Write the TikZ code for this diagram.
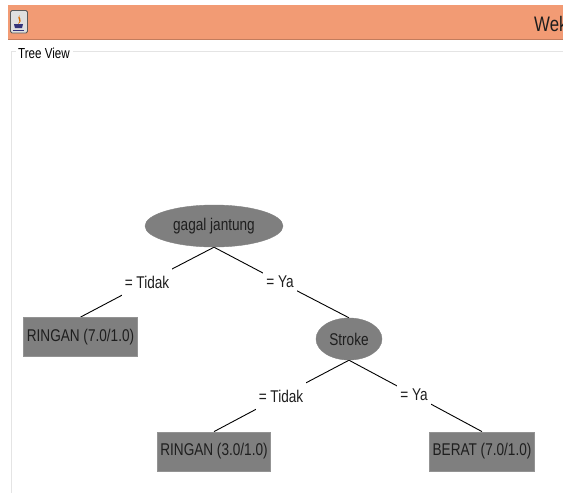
\documentclass[tikz,border=0pt]{standalone}
\usepackage{fontspec}
\setmainfont{Liberation Sans}[FakeStretch=0.8]
\usetikzlibrary{backgrounds,shapes.geometric}
\definecolor{barcol}{HTML}{F29B74}
\definecolor{nodecol}{HTML}{7F7F7F}
\definecolor{inkcol}{HTML}{1E1E1E}
\definecolor{framecol}{HTML}{E4E4E4}
\tikzset{
  txt/.style={font=\fontsize{17}{19}\selectfont,text=inkcol,inner sep=0pt},
  splitnode/.style={ellipse,fill=nodecol,draw=nodecol,txt,minimum width=138pt,minimum height=42pt},
  leafnode/.style={rectangle,fill=nodecol,draw=gray!85,line width=0.8pt,txt,minimum height=39pt},
  edgelabel/.style={rectangle,fill=white,txt,minimum height=28pt,inner xsep=3pt},
  conn/.style={draw=black,line width=0.9pt}
}
\begin{document}
\begin{tikzpicture}[x=1pt,y=-1pt]
\useasboundingbox (0,0) rectangle (563,493);
% title bar
\fill[barcol] (8,5) rectangle (563,39);
\draw[draw=barcol!80!black,line width=0.6pt] (8,39.5) -- (563,39.5);
% java icon
\draw[draw=gray!70!black,fill=gray!25,rounded corners=1.5pt,line width=0.8pt] (10.5,10.5) rectangle (27.5,33);
\fill[orange!85!black] (19.5,15) .. controls (16,19) and (22,20) .. (18,24) .. controls (24,20) and (18,18) .. (19.5,15);
\fill[blue!35!black!80] (14,24) -- (23,24) -- (22,28) -- (15,28) -- cycle;
\draw[blue!35!black!80,line width=0.7pt] (13,30) -- (24,30);
% frame
\draw[framecol,line width=1.2pt] (16,51.5) -- (11.5,51.5) -- (11.5,493);
\draw[framecol,line width=1.2pt] (73,51.5) -- (563,51.5);
\node[txt,font=\fontsize{14.5}{16}\selectfont,anchor=west,text=black] (title) at (18,53.5) {Tree View};
\node[txt,font=\fontsize{21}{24}\selectfont,anchor=west] (wek) at (534,24) {Wek};
% nodes
\node[splitnode] (n1) at (214,226) {gagal jantung};
\node[splitnode,minimum width=66pt] (n2) at (349,339) {Stroke};
\node[leafnode,minimum width=114pt] (b1) at (80.5,337) {RINGAN (7.0/1.0)};
\node[leafnode,minimum width=113pt] (b2) at (214,451.5) {RINGAN (3.0/1.0)};
\node[leafnode,minimum width=105pt] (b3) at (482,451.5) {BERAT (7.0/1.0)};
\node[edgelabel] (l1) at (147,282) {= Tidak};
\node[edgelabel] (l2) at (280,282) {= Ya};
\node[edgelabel] (l3) at (281,396) {= Tidak};
\node[edgelabel] (l4) at (414,395) {= Ya};
\begin{pgfonlayer}{background}
\draw[conn] (n1.south) -- (l1.center) -- (b1.north);
\draw[conn] (n1.south) -- (l2.center) -- (n2.north);
\draw[conn] (n2.south) -- (l3.center) -- (b2.north);
\draw[conn] (n2.south) -- (l4.center) -- (b3.north);
\end{pgfonlayer}
\end{tikzpicture}
\end{document}
